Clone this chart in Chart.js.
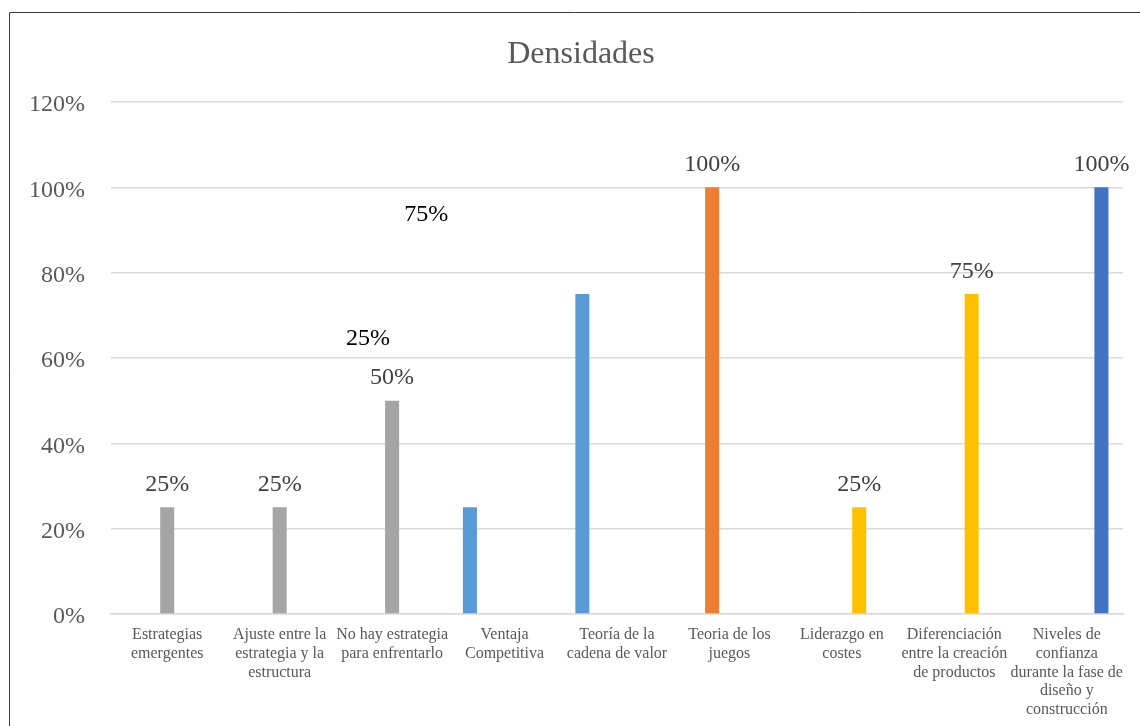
<!DOCTYPE html>
<html>
<head>
<meta charset="utf-8">
<script src="https://cdn.jsdelivr.net/npm/chart.js@4.4.1/dist/chart.umd.min.js"></script>
<style>
  html, body { margin: 0; padding: 0; background: #fff; }
  #wrap { width: 1140px; height: 726px; position: relative; }
</style>
</head>
<body>
<div id="wrap"><canvas id="c" width="1140" height="726"></canvas></div>
<script>
// ---- data ----
const chartTitle = 'Densidades';
const categories = [
  ['Estrategias', 'emergentes'],
  ['Ajuste entre la', 'estrategia y la', 'estructura'],
  ['No hay estrategia', 'para enfrentarlo'],
  ['Ventaja', 'Competitiva'],
  ['Teoría de la', 'cadena de valor'],
  ['Teoria de los', 'juegos'],
  ['Liderazgo en', 'costes'],
  ['Diferenciación', 'entre la creación', 'de productos'],
  ['Niveles de', 'confianza', 'durante la fase de', 'diseño y', 'construcción']
];
const seriesLightBlue = [null, null, null, 25, 75, null, null, null, null];
const seriesOrange    = [null, null, null, null, null, 100, null, null, null];
const seriesGray      = [25, 25, 50, null, null, null, null, null, null];
const seriesYellow    = [null, null, null, null, null, null, 25, 75, null];
const seriesDarkBlue  = [null, null, null, null, null, null, null, null, 100];
const yTicks = [0, 20, 40, 60, 80, 100, 120];

// ---- styles ----
const serif = "'Liberation Serif', 'Times New Roman', serif";
// labels of the light-blue series were dragged away from their bars in the original
const movedLabelOffsets = { 3: [-102, -146], 4: [-156, -57] };

const frame = {
  id: 'frame',
  beforeDraw(chart) {
    const ctx = chart.ctx;
    ctx.save();
    ctx.fillStyle = '#fff';
    ctx.fillRect(0, 0, chart.width, chart.height);
    ctx.strokeStyle = '#3a3a3a';
    ctx.lineWidth = 1;
    ctx.beginPath();
    ctx.moveTo(9.5, chart.height);
    ctx.lineTo(9.5, 12.5);
    ctx.lineTo(chart.width, 12.5);
    ctx.stroke();
    ctx.font = '32px ' + serif;
    ctx.fillStyle = '#595959';
    ctx.textAlign = 'center';
    ctx.textBaseline = 'alphabetic';
    ctx.fillText(chartTitle, 581, 63);
    ctx.restore();
  }
};

const valueLabels = {
  id: 'valueLabels',
  afterDatasetsDraw(chart) {
    const ctx = chart.ctx;
    ctx.save();
    ctx.font = '24px ' + serif;
    ctx.textAlign = 'center';
    ctx.textBaseline = 'alphabetic';
    chart.data.datasets.forEach((ds, di) => {
      const meta = chart.getDatasetMeta(di);
      meta.data.forEach((bar, i) => {
        const v = ds.data[i];
        if (v === null || v === undefined) return;
        let x = bar.x, y = bar.y - 16.5;
        ctx.fillStyle = '#404040';
        if (ds.movedLabels && movedLabelOffsets[i]) {
          x += movedLabelOffsets[i][0];
          y += movedLabelOffsets[i][1];
          ctx.fillStyle = '#000000';
        }
        ctx.fillText(v + '%', x, y);
      });
    });
    ctx.restore();
  }
};

new Chart(document.getElementById('c'), {
  type: 'bar',
  data: {
    labels: categories,
    datasets: [
      { label: 'A', data: seriesLightBlue, backgroundColor: '#5B9BD5', movedLabels: true },
      { label: 'B', data: seriesOrange, backgroundColor: '#ED7D31' },
      { label: 'C', data: seriesGray, backgroundColor: '#A5A5A5' },
      { label: 'D', data: seriesYellow, backgroundColor: '#FFC000' },
      { label: 'E', data: seriesDarkBlue, backgroundColor: '#4472C4' }
    ]
  },
  options: {
    responsive: false,
    animation: false,
    events: [],
    categoryPercentage: 0.77,
    barPercentage: 0.81,
    layout: { padding: { top: 102, right: 17, left: 0, bottom: 0 } },
    plugins: {
      legend: { display: false },
      title: { display: false },
      tooltip: { enabled: false }
    },
    scales: {
      x: {
        grid: { display: false },
        border: { display: true, color: '#d9d9d9', width: 1.5 },
        ticks: {
          color: '#595959',
          font: { family: serif, size: 16, lineHeight: 1.16 },
          maxRotation: 0, minRotation: 0, autoSkip: false, padding: 4
        },
        afterFit(s) { s.height = 112; }
      },
      y: {
        min: 0, max: 120,
        afterBuildTicks(s) { s.ticks = yTicks.map(v => ({ value: v })); },
        grid: { color: '#d9d9d9', lineWidth: 1.5, drawTicks: false },
        border: { display: false },
        ticks: {
          color: '#595959',
          font: { family: serif, size: 24 },
          padding: 26,
          labelOffset: 3,
          callback: v => v + '%'
        },
        afterFit(s) { s.width = 111; }
      }
    }
  },
  plugins: [frame, valueLabels]
});
</script>
</body>
</html>
